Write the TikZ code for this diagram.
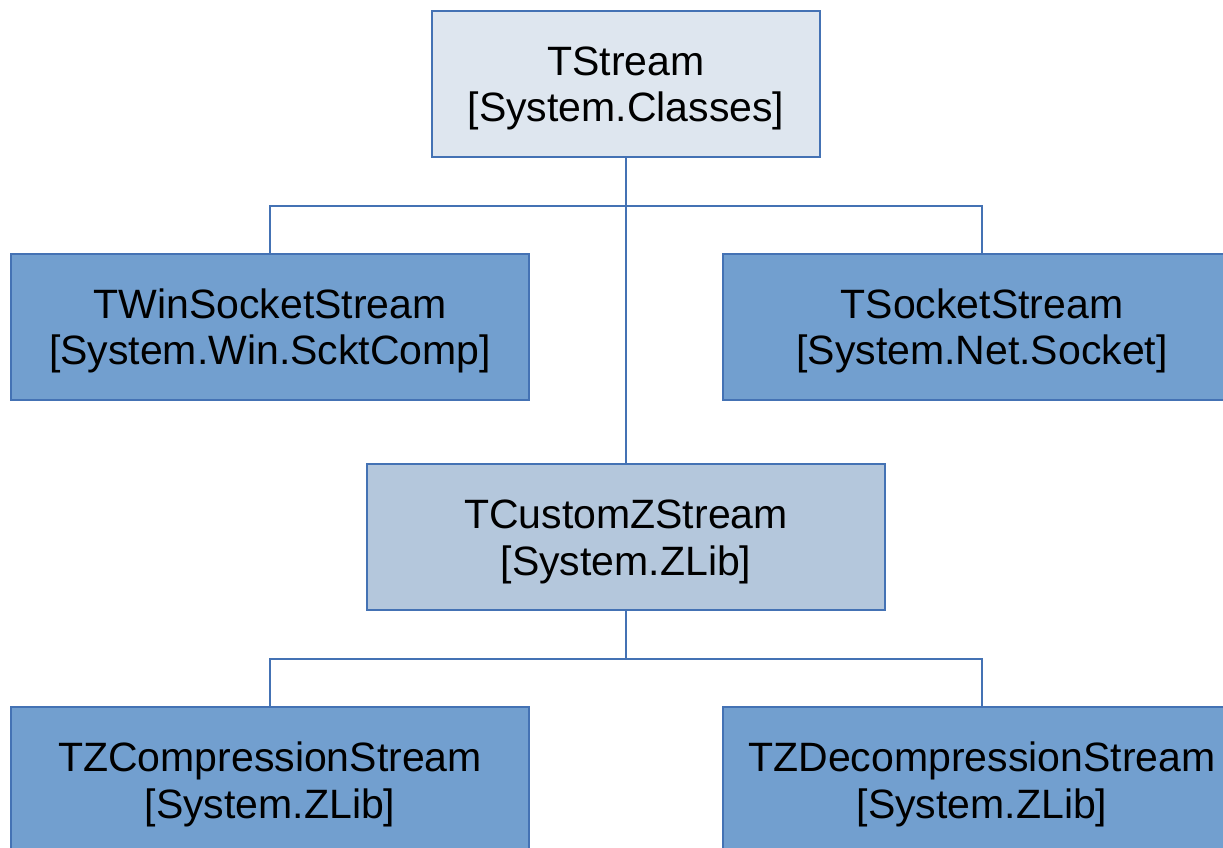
\documentclass[tikz,border=0pt]{standalone}
\usepackage{fontspec}
\setmainfont{Liberation Sans}
\definecolor{edge}{HTML}{4472B4}
\definecolor{toplight}{HTML}{DEE6EF}
\definecolor{midblue}{HTML}{B4C7DC}
\definecolor{leafblue}{HTML}{729FCF}
\newcommand{\lowstrut}{\rule{0pt}{38pt}}
\begin{document}
\begin{tikzpicture}[x=1pt,y=-1pt,
  cls/.style={draw=edge, line width=1.4pt, rectangle, inner sep=0pt,
    minimum width=518pt, minimum height=146pt, align=center,
    font=\fontsize{41}{46.5}\selectfont, text=black},
  conn/.style={draw=edge, line width=1.4pt}]
\path[use as bounding box] (0,0) rectangle (1223,848);
\clip (0,0) rectangle (1223,848);
\node[cls, fill=toplight, minimum width=388pt] (ts) at (626,84) {\lowstrut TStream\\{}{[System.Classes]}};
\node[cls, fill=leafblue] (tw) at (270,327) {\lowstrut TWinSocketStream\\{}{[System.Win.ScktComp]}};
\node[cls, fill=leafblue] (tss) at (982,327) {\lowstrut TSocketStream\\{}{[System.Net.Socket]}};
\node[cls, fill=midblue] (tcz) at (626,537) {\lowstrut TCustomZStream\\{}{[System.ZLib]}};
\node[cls, fill=leafblue] (tzc) at (270,780) {\lowstrut TZCompressionStream\\{}{[System.ZLib]}};
\node[cls, fill=leafblue] (tzd) at (982,780) {\lowstrut TZDecompressionStream\\{}{[System.ZLib]}};
\coordinate (j1) at (626,206);
\coordinate (j2) at (626,659);
\draw[conn] (ts.south) -- (tcz.north);
\draw[conn] (tw.north) |- (j1) -| (tss.north);
\draw[conn] (tcz.south) -- (j2);
\draw[conn] (tzc.north) |- (j2) -| (tzd.north);
\end{tikzpicture}
\end{document}
